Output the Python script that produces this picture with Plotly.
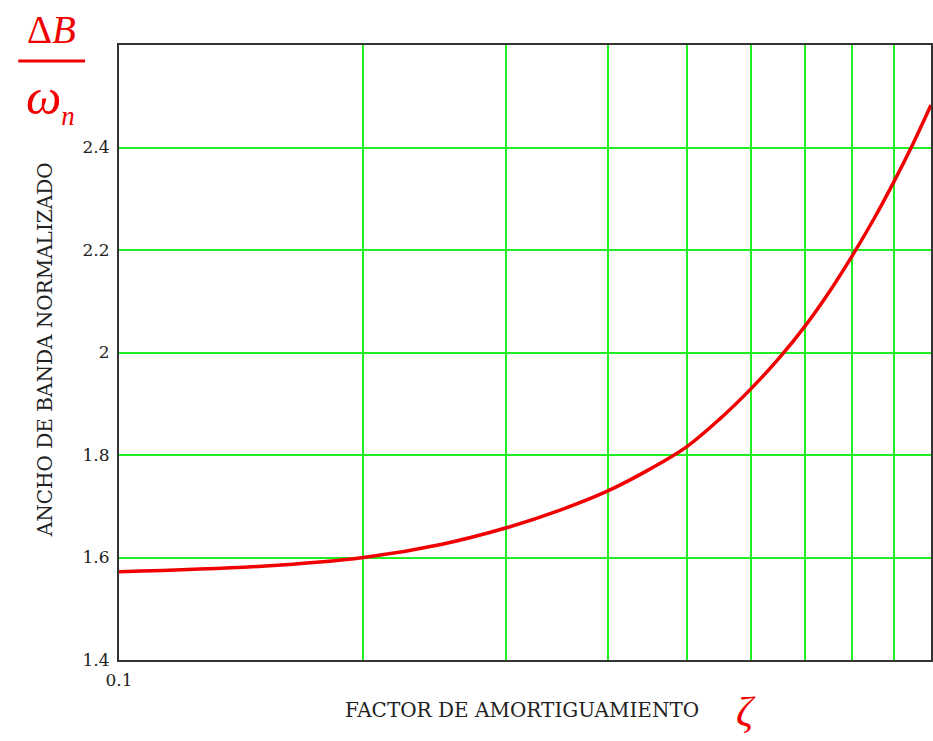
import plotly.graph_objects as go

# Data
zeta = [0.10, 0.15, 0.20, 0.25, 0.30, 0.35, 0.40, 0.45, 0.50, 0.55,
        0.60, 0.65, 0.70, 0.75, 0.80, 0.85, 0.90, 0.95, 1.00]
bw_norm = [1.572, 1.583, 1.600, 1.626, 1.658, 1.693, 1.730, 1.772, 1.816, 1.871,
           1.929, 1.989, 2.052, 2.119, 2.189, 2.260, 2.333, 2.407, 2.483]

x_tickvals = [0.1, 1.0]
x_ticktext = ["0.1", "1"]
x_gridvals = [0.2, 0.3, 0.4, 0.5, 0.6, 0.7, 0.8, 0.9]
y_tickvals = [1.4, 1.6, 1.8, 2.0, 2.2, 2.4]
y_ticktext = ["1.4", "1.6", "1.8", "2", "2.2", "2.4"]

W, H = 933, 741
L, R, T, B = 119, 0, 45, 81
PW, PH = W - L - R, H - T - B


def px(x):
    return (x - L) / PW


def py(y):
    return (H - B - y) / PH


fig = go.Figure()
fig.add_trace(go.Scatter(x=zeta, y=bw_norm, mode="lines",
                         line=dict(color="#f00000", width=3.5, shape="spline"),
                         hoverinfo="skip", showlegend=False))

serif = "Liberation Serif, Times New Roman, serif"
slab = "DejaVu Serif, serif"
green = "#22ee22"

fig.update_layout(
    width=W, height=H,
    margin=dict(l=L, r=R, t=T, b=B, pad=0),
    paper_bgcolor="white", plot_bgcolor="white",
    font=dict(family=slab, size=17, color="#222"),
    xaxis=dict(type="log", range=[-1, 0], tickvals=x_tickvals, ticktext=x_ticktext,
               showgrid=True, gridcolor=green, gridwidth=1.6,
               minor=dict(tickvals=x_gridvals, showgrid=True, gridcolor=green,
                          gridwidth=1.6, ticks=""),
               showline=True, linecolor="#333", linewidth=2, mirror=True,
               ticks="outside", ticklen=4, tickcolor="rgba(0,0,0,0)",
               zeroline=False, tickfont=dict(family=slab, size=17, color="#222")),
    yaxis=dict(range=[1.4, 2.6], tickvals=y_tickvals, ticktext=y_ticktext,
               showgrid=True, gridcolor=green, gridwidth=1.6,
               showline=True, linecolor="#333", linewidth=2, mirror=True,
               ticks="outside", ticklen=4, tickcolor="rgba(0,0,0,0)",
               zeroline=False, tickfont=dict(family=slab, size=17, color="#222")),
)

ann = [
    dict(text="FACTOR DE AMORTIGUAMIENTO", x=px(523), y=py(710),
         font=dict(family=slab, size=20, color="#222")),
    dict(text="ANCHO DE BANDA NORMALIZADO", x=px(45), y=py(350), textangle=-90,
         font=dict(family=slab, size=20, color="#222")),
    dict(text="Δ<i>B</i>", x=px(51), y=py(30),
         font=dict(family=serif, size=39, color="#f00000")),
    dict(text="<i>ω</i><sub><span style='font-size:27px'><i>n</i></span></sub>",
         x=px(50), y=py(100),
         font=dict(family=serif, size=50, color="#f00000")),
    dict(text="<i>ζ</i>", x=px(748), y=py(712),
         font=dict(family=serif, size=42, color="#f00000")),
]
for a in ann:
    a.update(xref="paper", yref="paper", showarrow=False,
             xanchor="center", yanchor="middle")
    fig.add_annotation(**a)

fig.add_shape(type="line", xref="paper", yref="paper",
              x0=px(18), x1=px(85), y0=py(61), y1=py(61),
              line=dict(color="#f00000", width=3))

fig.write_html("out.html",
               config={"displayModeBar": False},
               post_script="document.body.style.margin='0';"
                           "document.documentElement.style.overflow='hidden';")
